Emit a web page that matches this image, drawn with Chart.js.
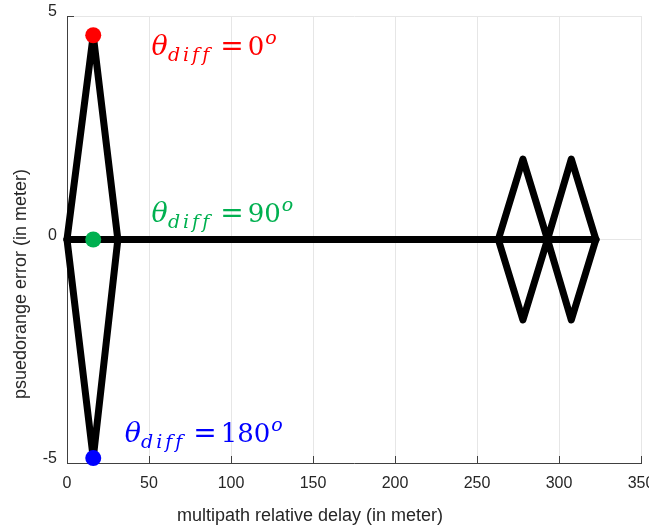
<!DOCTYPE html>
<html>
<head>
<meta charset="utf-8">
<script src="https://cdn.jsdelivr.net/npm/chart.js@4"></script>
<style>
  html, body { margin: 0; padding: 0; background: #fff; }
</style>
</head>
<body>
<canvas id="chart" width="649" height="529"></canvas>
<script>
// multipath delay (m) vs pseudorange error (m)
const upperX = [0, 16, 31, 263, 278, 293, 307.5, 322.5];
const upperY = [0, 4.57, 0, 0, 1.8, 0, 1.8, 0];
const lowerX = [0, 16, 31, 263, 278, 293, 307.5, 322.5];
const lowerY = [0, -4.89, 0, 0, -1.8, 0, -1.8, 0];
const midX = [0, 322.5];
const midY = [0, 0];

// marker dots for the three phase differences
const dotX = [16, 16, 16];
const dotY = [4.57, 0, -4.89];
const dotColors = ['#ff0000', '#00b050', '#0000ff'];

// text annotations (anchor in data units)
const phaseLabels = ['0', '90', '180'];
const labelX = [51.6, 51.6, 35.2];
const labelY = [4.13, 0.39, -4.53];

const xTicks = [0, 50, 100, 150, 200, 250, 300, 350];
const yTicks = [-5, 0, 5];

const pts = (xs, ys) => xs.map((x, i) => ({ x: x, y: ys[i] }));

const lineStyle = {
  showLine: true,
  borderColor: '#000000',
  borderWidth: 7,
  borderJoinStyle: 'round',
  borderCapStyle: 'round',
  pointRadius: 0,
  tension: 0,
  clip: false,
  order: 2
};

function drawPhase(ctx, x, y, deg, color) {
  ctx.save();
  ctx.fillStyle = color;
  ctx.textAlign = 'left';
  ctx.textBaseline = 'alphabetic';
  let cx = x;
  ctx.font = 'italic 27px "DejaVu Serif"';
  ctx.fillText('θ', cx, y);
  cx += ctx.measureText('θ').width;
  ctx.font = 'italic 19px "DejaVu Serif"';
  ctx.letterSpacing = '3px';
  ctx.fillText('diff', cx, y + 6);
  cx += ctx.measureText('diff').width + 8;
  ctx.letterSpacing = '0px';
  ctx.font = '28px "DejaVu Serif"';
  ctx.fillText('=', cx, y);
  cx += ctx.measureText('=').width + 4;
  ctx.font = '26px "DejaVu Serif"';
  ctx.fillText(deg, cx, y);
  cx += ctx.measureText(deg).width + 1;
  ctx.font = 'italic 19px "DejaVu Serif"';
  ctx.fillText('o', cx, y - 11);
  ctx.restore();
}

const decorPlugin = {
  id: 'decor',
  beforeDatasetsDraw(chart) {
    // MATLAB style inward tick marks
    const { ctx, chartArea: a, scales } = chart;
    ctx.save();
    ctx.strokeStyle = '#404040';
    ctx.lineWidth = 1;
    ctx.beginPath();
    xTicks.forEach(v => {
      const px = Math.round(scales.x.getPixelForValue(v)) + 0.5;
      ctx.moveTo(px, a.bottom);
      ctx.lineTo(px, a.bottom - 7);
    });
    yTicks.forEach(v => {
      const py = Math.round(scales.y.getPixelForValue(v)) + 0.5;
      ctx.moveTo(a.left, py);
      ctx.lineTo(a.left + 7, py);
    });
    ctx.stroke();
    ctx.restore();
  },
  afterDraw(chart) {
    const { ctx, scales } = chart;
    phaseLabels.forEach((deg, i) => {
      drawPhase(ctx, scales.x.getPixelForValue(labelX[i]),
        scales.y.getPixelForValue(labelY[i]), deg, dotColors[i]);
    });
    ctx.save();
    ctx.fillStyle = '#262626';
    ctx.font = '18px "Liberation Sans", Arial, sans-serif';
    ctx.textAlign = 'center';
    ctx.textBaseline = 'middle';
    ctx.fillText('multipath relative delay (in meter)', 310, 516);
    ctx.translate(21, 284);
    ctx.rotate(-Math.PI / 2);
    ctx.fillText('psuedorange error (in meter)', 0, 0);
    ctx.restore();
  }
};

new Chart(document.getElementById('chart'), {
  type: 'scatter',
  data: {
    datasets: [
      {
        data: pts(dotX, dotY),
        backgroundColor: dotColors,
        pointRadius: 8,
        pointHoverRadius: 8,
        pointBorderWidth: 0,
        showLine: false,
        clip: false,
        order: 1
      },
      Object.assign({ data: pts(upperX, upperY) }, lineStyle),
      Object.assign({ data: pts(lowerX, lowerY) }, lineStyle),
      Object.assign({ data: pts(midX, midY) }, lineStyle)
    ]
  },
  options: {
    responsive: false,
    animation: false,
    events: [],
    layout: { padding: { top: 16, right: 6, left: 0, bottom: 0 } },
    plugins: { legend: { display: false }, tooltip: { enabled: false } },
    scales: {
      x: {
        type: 'linear',
        position: 'bottom',
        min: 0,
        max: 350,
        afterBuildTicks: s => { s.ticks = xTicks.map(v => ({ value: v })); },
        afterFit: s => { s.height = 66; s.paddingLeft = 0; s.paddingRight = 0; },
        grid: { color: '#e6e6e6', drawTicks: false },
        border: { color: '#404040', width: 1 },
        ticks: {
          color: '#262626',
          padding: 11,
          maxRotation: 0,
          autoSkip: false,
          font: { family: '"Liberation Sans", Arial, sans-serif', size: 16 }
        }
      },
      y: {
        type: 'linear',
        position: 'left',
        min: -5,
        max: 5,
        afterBuildTicks: s => { s.ticks = yTicks.map(v => ({ value: v })); },
        afterFit: s => { s.width = 67; s.paddingTop = 0; s.paddingBottom = 0; },
        grid: { color: '#e6e6e6', drawTicks: false },
        border: { color: '#404040', width: 1 },
        ticks: {
          color: '#262626',
          padding: 10,
          labelOffset: -4,
          font: { family: '"Liberation Sans", Arial, sans-serif', size: 16 }
        }
      }
    }
  },
  plugins: [decorPlugin]
});
</script>
</body>
</html>
